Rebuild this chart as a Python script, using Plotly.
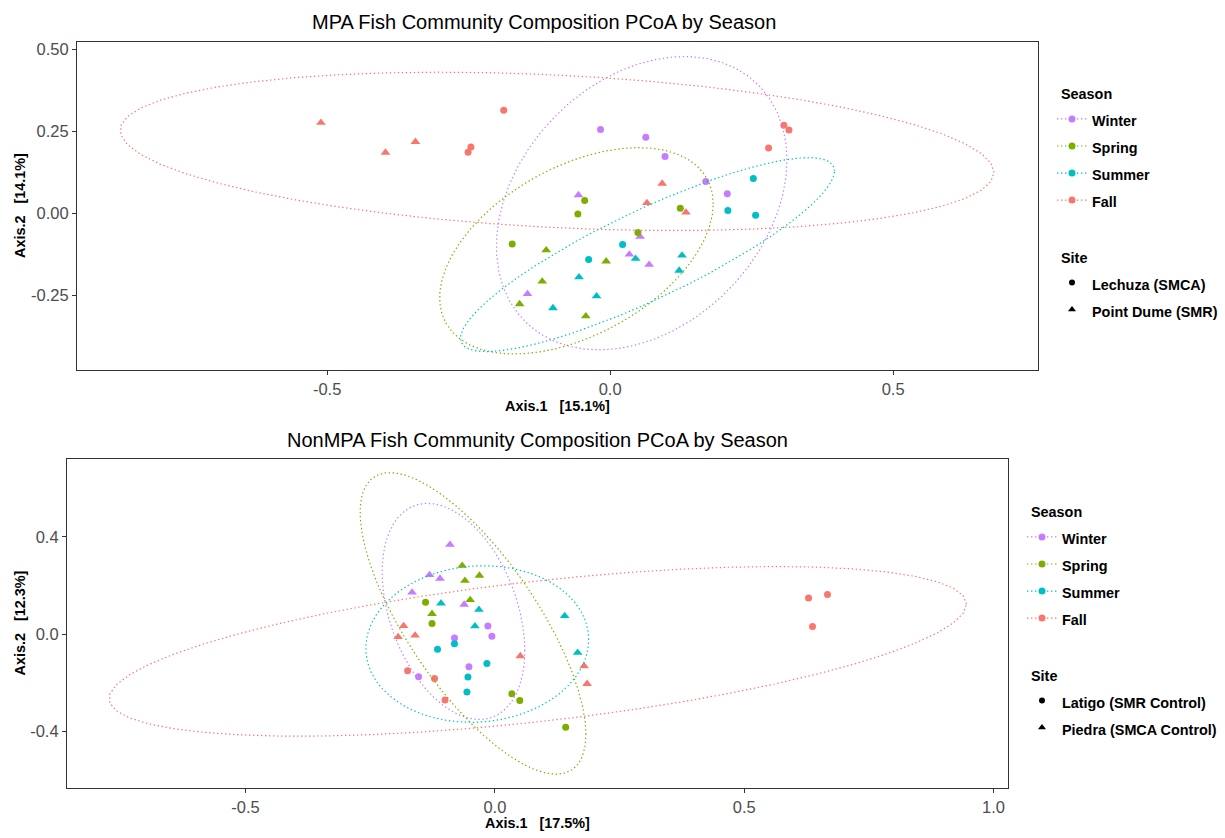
import numpy as np
import plotly.graph_objects as go

W, H = 1225, 838

season_order = ["Winter", "Spring", "Summer", "Fall"]
season_colors = ["#C77CFF", "#7CAE00", "#00BFC4", "#F8766D"]

# ---------------- MPA (top panel) ----------------
mpa_sites = ["Lechuza (SMCA)", "Point Dume (SMR)"]
mpa_season = (["Winter"] * 10 + ["Spring"] * 10 + ["Summer"] * 11 + ["Fall"] * 12)
mpa_site = (["Lechuza (SMCA)"] * 5 + ["Point Dume (SMR)"] * 5 +
            ["Lechuza (SMCA)"] * 5 + ["Point Dume (SMR)"] * 5 +
            ["Lechuza (SMCA)"] * 5 + ["Point Dume (SMR)"] * 6 +
            ["Lechuza (SMCA)"] * 6 + ["Point Dume (SMR)"] * 6)
mpa_x = [-0.017, 0.063, 0.097, 0.169, 0.207,
         -0.056, 0.053, 0.034, 0.069, -0.146,
         -0.173, -0.045, -0.057, 0.124, 0.049,
         -0.113, -0.120, -0.160, -0.007, -0.043,
         0.253, 0.208, 0.257, 0.022, -0.038,
         -0.101, 0.045, 0.127, 0.122, -0.055, -0.024,
         -0.188, -0.246, -0.251, 0.307, 0.316, 0.280,
         -0.511, -0.397, -0.344, 0.092, 0.065, 0.134]
mpa_y = [0.255, 0.232, 0.173, 0.097, 0.060,
         0.056, -0.071, -0.125, -0.156, -0.245,
         -0.093, 0.039, -0.002, 0.016, -0.058,
         -0.112, -0.207, -0.276, -0.146, -0.313,
         0.106, 0.009, -0.006, -0.095, -0.140,
         -0.288, -0.138, -0.128, -0.174, -0.194, -0.252,
         0.314, 0.202, 0.186, 0.268, 0.254, 0.199,
         0.276, 0.185, 0.218, 0.091, 0.032, 0.003]

# ---------------- NonMPA (bottom panel) ----------------
nonmpa_sites = ["Latigo (SMR Control)", "Piedra (SMCA Control)"]
nonmpa_season = (["Winter"] * 10 + ["Spring"] * 10 + ["Summer"] * 10 + ["Fall"] * 12)
nonmpa_site = (["Latigo (SMR Control)"] * 5 + ["Piedra (SMCA Control)"] * 5 +
               ["Latigo (SMR Control)"] * 5 + ["Piedra (SMCA Control)"] * 5 +
               ["Latigo (SMR Control)"] * 5 + ["Piedra (SMCA Control)"] * 5 +
               ["Latigo (SMR Control)"] * 6 + ["Piedra (SMCA Control)"] * 6)
nonmpa_x = [-0.014, -0.006, -0.081, -0.052, -0.153,
            -0.090, -0.131, -0.110, -0.166, -0.0615,
            -0.139, -0.126, 0.034, 0.050, 0.142,
            -0.0655, -0.060, -0.031, -0.0495, -0.126,
            -0.081, -0.115, -0.016, -0.054, -0.056,
            -0.108, -0.032, -0.040, 0.140, 0.166,
            -0.175, -0.121, -0.100, 0.629, 0.667, 0.637,
            -0.183, -0.194, -0.160, 0.051, 0.179, 0.185]
nonmpa_y = [0.034, -0.008, -0.016, -0.134, -0.175,
            0.368, 0.244, 0.229, 0.172, 0.122,
            0.131, 0.044, -0.245, -0.273, -0.383,
            0.282, 0.220, 0.241, 0.141, 0.084,
            -0.039, -0.062, -0.120, -0.176, -0.238,
            0.127, 0.101, 0.033, 0.075, -0.076,
            -0.150, -0.182, -0.271, 0.149, 0.163, 0.032,
            0.034, -0.011, -0.005, -0.090, -0.131, -0.204]

# tick labels
mpa_xticks = [-0.5, 0.0, 0.5]
mpa_xticktext = ["-0.5", "0.0", "0.5"]
mpa_yticks = [0.50, 0.25, 0.00, -0.25]
mpa_yticktext = ["0.50", "0.25", "0.00", "-0.25"]
nonmpa_xticks = [-0.5, 0.0, 0.5, 1.0]
nonmpa_xticktext = ["-0.5", "0.0", "0.5", "1.0"]
nonmpa_yticks = [0.4, 0.0, -0.4]
nonmpa_yticktext = ["0.4", "0.0", "-0.4"]

FONT = "Liberation Sans, Arial, Helvetica, sans-serif"
ITEM_PX = 14.4
TITLE_PX = 20
TICK_PX = 16.5


def cov_trob(x, nu=5, maxit=25, tol=0.01):
    n, p = x.shape
    wt = np.ones(n)
    loc = x.mean(axis=0)
    w = np.sqrt(wt)
    X = x - loc
    for _ in range(maxit):
        w0 = w
        X = x - loc
        _, d, vt = np.linalg.svd(np.sqrt(w / w.sum())[:, None] * X, full_matrices=False)
        wX = X @ vt.T @ np.diag(1.0 / d)
        Q = (wX ** 2).sum(axis=1)
        w = wt * (nu + p) / (nu + Q)
        loc = (w[:, None] * x).sum(axis=0) / w.sum()
        if np.all(np.abs(w - w0) < tol):
            break
    sw = np.sqrt(w)[:, None] * X
    cov = sw.T @ sw / wt.sum()
    return cov, loc


def stat_ellipse(xs, ys, level=0.95, segments=51):
    pts = np.column_stack([xs, ys])
    cov, center = cov_trob(pts)
    m = len(xs) - 1
    qf = (m / 2.0) * ((1 - level) ** (-2.0 / m) - 1)
    radius = np.sqrt(2 * qf)
    ang = np.arange(segments + 1) * 2 * np.pi / segments
    circ = np.column_stack([np.cos(ang), np.sin(ang)])
    R = np.linalg.cholesky(cov).T
    ell = center + radius * (circ @ R)
    return ell[:, 0], ell[:, 1]


fig = go.Figure()

panels = [
    dict(x=mpa_x, y=mpa_y, season=mpa_season, site=mpa_site, sites=mpa_sites,
         xa="x", ya="y", legend="legend"),
    dict(x=nonmpa_x, y=nonmpa_y, season=nonmpa_season, site=nonmpa_site, sites=nonmpa_sites,
         xa="x2", ya="y2", legend="legend2"),
]

DOT = "1.4px,2.6px"
grp_font = dict(size=18, color="black", family=FONT)


def grp_title(t):
    return '<span style="font-size:%spx">\u00a0<b>%s</b></span>' % (ITEM_PX, t)


for pn in panels:
    # legend entries: Season
    for s, c in zip(season_order, season_colors):
        fig.add_trace(go.Scatter(
            x=[None], y=[None], mode="lines+markers", xaxis=pn["xa"], yaxis=pn["ya"],
            name='<span style="font-size:%spx"><b>%s</b></span>' % (ITEM_PX, s),
            line=dict(color=c, width=1.2, dash=DOT),
            marker=dict(color=c, size=7, symbol="circle"),
            legend=pn["legend"], legendgroup="season" + pn["legend"],
            legendgrouptitle=dict(text=grp_title("Season"), font=grp_font),
            showlegend=True))
    # legend entries: Site
    for site, sym in zip(pn["sites"], ["circle", "triangle-up"]):
        fig.add_trace(go.Scatter(
            x=[None], y=[None], mode="markers", xaxis=pn["xa"], yaxis=pn["ya"],
            name='<span style="font-size:%spx"><b>%s</b></span>' % (ITEM_PX, site),
            marker=dict(color="black", size=6 if sym == "circle" else 7, symbol=sym),
            legend=pn["legend"], legendgroup="site" + pn["legend"],
            legendgrouptitle=dict(text=grp_title("Site"), font=grp_font),
            showlegend=True))

    xs = np.array(pn["x"])
    ys = np.array(pn["y"])
    seas = np.array(pn["season"])
    sites = np.array(pn["site"])
    # points
    for s, c in zip(season_order, season_colors):
        for site, sym in zip(pn["sites"], ["circle", "triangle-up"]):
            m = (seas == s) & (sites == site)
            fig.add_trace(go.Scatter(
                x=xs[m], y=ys[m], mode="markers", xaxis=pn["xa"], yaxis=pn["ya"],
                marker=dict(color=c, size=7 if sym == "circle" else 8.5, symbol=sym,
                            line=dict(width=0)),
                showlegend=False, hoverinfo="x+y"))
    # ellipses
    for s, c in zip(season_order, season_colors):
        m = seas == s
        ex, ey = stat_ellipse(xs[m], ys[m])
        fig.add_trace(go.Scatter(
            x=ex, y=ey, mode="lines", xaxis=pn["xa"], yaxis=pn["ya"],
            line=dict(color=c, width=1.2, dash=DOT),
            showlegend=False, hoverinfo="skip"))


def px_x(p):
    return p / W


def px_y(p):
    return 1 - p / H


axis_common = dict(showgrid=False, zeroline=False, showline=True, mirror=True,
                   linecolor="#333333", linewidth=1.2, ticks="outside", ticklen=4,
                   tickwidth=1, tickcolor="#333333",
                   tickfont=dict(size=TICK_PX, color="#4D4D4D", family=FONT))

legend_common = dict(xanchor="left", yanchor="top",
                     font=dict(size=18.5, family=FONT, color="black"),
                     tracegroupgap=29, bgcolor="rgba(0,0,0,0)", traceorder="grouped")

fig.update_layout(
    width=W, height=H, margin=dict(l=0, r=0, t=0, b=0),
    paper_bgcolor="white", plot_bgcolor="white",
    font=dict(family=FONT, color="black"),
    xaxis=dict(domain=[px_x(77), px_x(1038)], range=[-0.942, 0.756], anchor="y",
               tickvals=mpa_xticks, ticktext=mpa_xticktext, **axis_common),
    yaxis=dict(domain=[px_y(369), px_y(40)], range=[-0.477, 0.522], anchor="x",
               tickvals=mpa_yticks, ticktext=mpa_yticktext, **axis_common),
    xaxis2=dict(domain=[px_x(67), px_x(1008)], range=[-0.858, 1.029], anchor="y2",
                tickvals=nonmpa_xticks, ticktext=nonmpa_xticktext, **axis_common),
    yaxis2=dict(domain=[px_y(788), px_y(458)], range=[-0.633, 0.721], anchor="x2",
                tickvals=nonmpa_yticks, ticktext=nonmpa_yticktext, **axis_common),
    legend=dict(x=px_x(1052), y=px_y(72.2), **legend_common),
    legend2=dict(x=px_x(1022), y=px_y(491.2), **legend_common),
    showlegend=True,
)

annots = [
    dict(text="MPA Fish Community Composition PCoA by Season", x=px_x(544), y=px_y(20),
         font=dict(size=TITLE_PX)),
    dict(text="NonMPA Fish Community Composition PCoA by Season", x=px_x(537.5), y=px_y(439),
         font=dict(size=TITLE_PX)),
    dict(text="<b>Axis.1\u00a0\u00a0\u00a0[15.1%]</b>", x=px_x(557.5), y=px_y(405),
         font=dict(size=ITEM_PX)),
    dict(text="<b>Axis.1\u00a0\u00a0\u00a0[17.5%]</b>", x=px_x(537.5), y=px_y(823),
         font=dict(size=ITEM_PX)),
    dict(text="<b>Axis.2\u00a0\u00a0\u00a0[14.1%]</b>", x=px_x(20), y=px_y(204.5),
         font=dict(size=ITEM_PX), textangle=-90),
    dict(text="<b>Axis.2\u00a0\u00a0\u00a0[12.3%]</b>", x=px_x(20), y=px_y(623),
         font=dict(size=ITEM_PX), textangle=-90),
]
for a in annots:
    a.update(xref="paper", yref="paper", showarrow=False, xanchor="center", yanchor="middle")
    a["font"].update(family=FONT, color="black")
    fig.add_annotation(**a)

fig.write_html("out.html")
